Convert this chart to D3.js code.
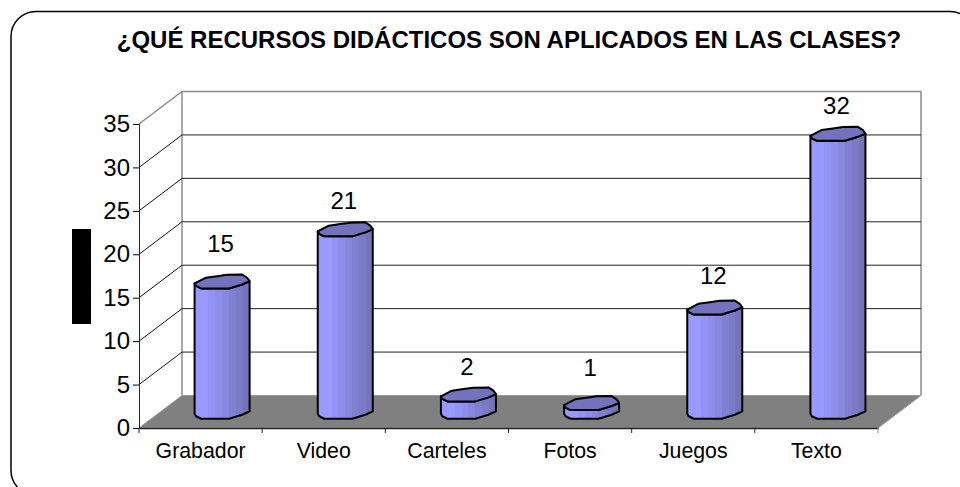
<!DOCTYPE html>
<html>
<head>
<meta charset="utf-8">
<script src="https://cdnjs.cloudflare.com/ajax/libs/d3/7.8.5/d3.min.js"></script>
<style>
  html, body { margin: 0; padding: 0; background: #fff; overflow: hidden; }
  svg { display: block; }
  text { font-family: "Liberation Sans", Arial, sans-serif; fill: #000; }
</style>
</head>
<body>
<div id="chart"></div>
<script>
// chart data
const titleText = "¿QUÉ RECURSOS DIDÁCTICOS SON APLICADOS EN LAS CLASES?";
const categories = ["Grabador", "Video", "Carteles", "Fotos", "Juegos", "Texto"];
const values = [15, 21, 2, 1, 12, 32];
const yTicks = [0, 5, 10, 15, 20, 25, 30, 35];

// layout of the fake 3d box
const width = 960;
const height = 487;
const frontLeft = 139;
const frontRight = 878;
const frontBottom = 428;
const frontTop = 124;
const depthX = 43;
const depthY = 32.5;
const labelGaps = [38, 29, 28, 35, 32, 28]; // label distance above the bar top

const svg = d3.select("#chart")
    .append("svg")
    .attr("width", width)
    .attr("height", height);

const x = d3.scaleBand().domain(categories).range([frontLeft, frontRight]);
const y = d3.scaleLinear().domain([0, 35]).range([frontBottom, frontTop]);

// bar facets, light on the left to dark on the right
const barGradient = svg.append("defs").append("linearGradient").attr("id", "barFill");
const facetColors = ["#9999ff", "#9999ff", "#9393f5", "#8e8eea", "#8888e0", "#8080d0", "#7a7ac6", "#7474b8"];
facetColors.forEach(function (c, i) {
    barGradient.append("stop").attr("offset", i / facetColors.length).attr("stop-color", c);
    barGradient.append("stop").attr("offset", (i + 1) / facetColors.length).attr("stop-color", c);
});

// outer frame, runs off the right and bottom of the page
svg.append("rect")
    .attr("x", 11).attr("y", 11.5)
    .attr("width", 964).attr("height", 484)
    .attr("rx", 25)
    .attr("fill", "none")
    .attr("stroke", "#000")
    .attr("stroke-width", 1.5);

// back wall + side wall
const wallColor = "#8c8c8c";
svg.append("path")
    .attr("d", d3.line()([
        [frontLeft, frontTop],
        [frontLeft + depthX, y(35) - depthY],
        [frontRight + depthX, y(35) - depthY],
        [frontRight + depthX, y(0) - depthY],
    ]))
    .attr("fill", "none")
    .attr("stroke", wallColor)
    .attr("stroke-width", 1.5);

svg.append("line")
    .attr("x1", frontLeft + depthX).attr("x2", frontLeft + depthX)
    .attr("y1", y(35) - depthY).attr("y2", y(0) - depthY)
    .attr("stroke", wallColor)
    .attr("stroke-width", 1.5);

// floor
svg.append("path")
    .attr("d", d3.line()([
        [frontLeft, y(0)],
        [frontLeft + depthX, y(0) - depthY],
        [frontRight + depthX, y(0) - depthY],
        [frontRight, y(0)],
    ]) + "Z")
    .attr("fill", "#808080")
    .attr("stroke", "#9a9a9a")
    .attr("stroke-width", 1);

// grid lines on the back wall and along the side
const gridTicks = yTicks.filter(function (d) { return d > 0 && d < 35; });
svg.selectAll("line.grid")
    .data(gridTicks)
    .enter()
    .append("line")
    .attr("class", "grid")
    .attr("x1", frontLeft + depthX)
    .attr("x2", frontRight + depthX)
    .attr("y1", function (d) { return y(d) - depthY; })
    .attr("y2", function (d) { return y(d) - depthY; })
    .attr("stroke", "#222")
    .attr("stroke-width", 1);

svg.selectAll("line.side")
    .data(gridTicks)
    .enter()
    .append("line")
    .attr("class", "side")
    .attr("x1", frontLeft)
    .attr("x2", frontLeft + depthX)
    .attr("y1", function (d) { return y(d); })
    .attr("y2", function (d) { return y(d) - depthY; })
    .attr("stroke", "#111")
    .attr("stroke-width", 1);

// axes
const yAxis = d3.axisLeft(y).tickValues(yTicks).tickSize(6).tickPadding(3);
const yG = svg.append("g")
    .attr("transform", "translate(" + frontLeft + ",0)")
    .call(yAxis);
yG.selectAll("text").style("font-size", "24px");
yG.select(".domain").attr("stroke", "#222");

const xAxis = d3.axisBottom(x).tickSize(0).tickPadding(15);
const xG = svg.append("g")
    .attr("transform", "translate(0," + frontBottom + ")")
    .call(xAxis);
xG.selectAll("text").style("font-size", "21.3px");
xG.select(".domain").attr("stroke", "#222").attr("stroke-width", 1.4);

// category separators, the last one sits on the grey corner
const separators = categories.map(function (c) { return x(c); }).concat([frontRight]);
xG.selectAll("line.sep")
    .data(separators)
    .enter()
    .append("line")
    .attr("class", "sep")
    .attr("x1", function (d) { return d; })
    .attr("x2", function (d) { return d; })
    .attr("y1", 0)
    .attr("y2", 5)
    .attr("stroke", function (d) { return d === frontRight ? wallColor : "#222"; });

// bars are faceted cylinders, outline points are relative to the bar centre
const frontEdge = [[-27.5, 2], [-26, 4.5], [-21, 7], [-8, 7], [7, 7], [20, 3], [27.5, -0.3]];
const backEdge = [[25, -3.7], [20, -7], [5, -6.7], [-5, -5.3], [-16.5, -3.7]];
const baseY = y(0) - depthY / 2;

function barX(d, i) {
    return x(categories[i]) + x.bandwidth() / 2 + depthX / 2;
}

function topY(d) {
    return baseY - (y(0) - y(d));
}

const bars = svg.selectAll("g.bar")
    .data(values)
    .enter()
    .append("g")
    .attr("class", "bar")
    .attr("transform", function (d, i) { return "translate(" + barX(d, i) + ",0)"; });

// body
bars.append("path")
    .attr("d", function (d) {
        const bottom = frontEdge.map(function (p) { return [p[0], baseY + p[1]]; });
        const top = frontEdge.slice().reverse().map(function (p) { return [p[0], topY(d) + p[1]]; });
        return d3.line()(bottom.concat(top)) + "Z";
    })
    .attr("fill", "url(#barFill)")
    .attr("stroke", "#000")
    .attr("stroke-width", 2)
    .attr("stroke-linejoin", "round");

// top
bars.append("path")
    .attr("d", function (d) {
        return d3.line()(frontEdge.concat(backEdge).map(function (p) { return [p[0], topY(d) + p[1]]; })) + "Z";
    })
    .attr("fill", "#7272bd")
    .attr("stroke", "#000")
    .attr("stroke-width", 2)
    .attr("stroke-linejoin", "round");

// value labels
bars.append("text")
    .attr("text-anchor", "middle")
    .attr("x", -1.5)
    .attr("y", function (d, i) { return topY(d) - labelGaps[i]; })
    .attr("dy", "0.35em")
    .style("font-size", "24px")
    .text(function (d) { return d; });

// title
svg.append("text")
    .attr("x", 509)
    .attr("y", 48)
    .attr("text-anchor", "middle")
    .style("font-size", "24px")
    .style("font-weight", "bold")
    .text(titleText);

// blacked out axis title
svg.append("rect")
    .attr("x", 72).attr("y", 229)
    .attr("width", 19).attr("height", 95)
    .attr("fill", "#000");
</script>
</body>
</html>
